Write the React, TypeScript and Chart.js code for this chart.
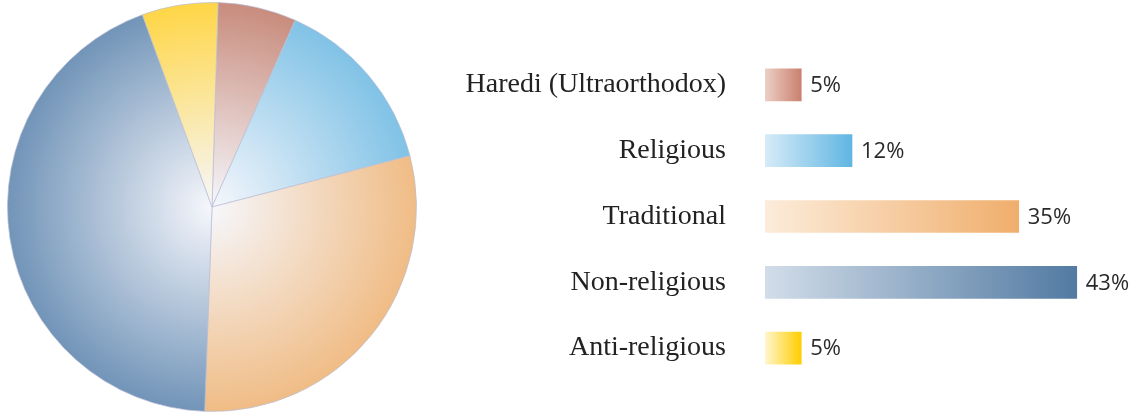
import React, { useEffect, useRef } from "react";
import { Chart, registerables } from "chart.js";

Chart.register(...registerables);

const categories = [
  "Haredi (Ultraorthodox)",
  "Religious",
  "Traditional",
  "Non-religious",
  "Anti-religious",
];
const barValues = [5, 12, 35, 43, 5];
const pieShares = [6.2, 14.3, 29.6, 43.9, 6.0];
const valueLabels = ["5%", "12%", "35%", "43%", "5%"];

const pieEdgeColors = [
  [200, 140, 125],
  [128, 194, 230],
  [240, 188, 133],
  [113, 148, 184],
  [255, 214, 70],
];
const barLightColors = [
  [236, 208, 198],
  [214, 235, 248],
  [252, 236, 218],
  [210, 221, 233],
  [255, 246, 205],
];
const barDarkColors = [
  [202, 128, 110],
  [96, 182, 226],
  [240, 174, 108],
  [82, 122, 162],
  [255, 206, 0],
];

const rgb = (c: number[]) => `rgb(${c[0]},${c[1]},${c[2]})`;

function PieChart() {
  const ref = useRef<HTMLCanvasElement | null>(null);
  useEffect(() => {
    const chart = new Chart(ref.current!, {
      type: "pie",
      data: {
        labels: categories,
        datasets: [
          {
            data: pieShares,
            backgroundColor: (ctx: any) => {
              const ch = ctx.chart;
              const area = ch.chartArea;
              const c = pieEdgeColors[ctx.dataIndex] || pieEdgeColors[0];
              if (!area || !isFinite(area.width) || area.width <= 0) return rgb(c);
              const cx = (area.left + area.right) / 2;
              const cy = (area.top + area.bottom) / 2;
              const r = Math.min(area.width, area.height) / 2;
              const g = ch.ctx.createRadialGradient(cx, cy, 0, cx, cy, r);
              g.addColorStop(0, "rgb(246,247,252)");
              g.addColorStop(1, rgb(c));
              return g;
            },
            borderColor: "rgba(185,190,212,0.7)",
            borderWidth: 1,
          },
        ],
      },
      options: {
        responsive: false,
        animation: false,
        rotation: 1.7,
        layout: { padding: 0 },
        plugins: { legend: { display: false }, tooltip: { enabled: false } },
      },
    });
    return () => chart.destroy();
  }, []);
  return (
    <canvas
      ref={ref}
      width={410}
      height={410}
      style={{ position: "absolute", left: 7, top: 2, width: 410, height: 410 }}
    />
  );
}

const valueLabelPlugin = {
  id: "valueLabels",
  afterDatasetsDraw(chart: any) {
    const ctx = chart.ctx;
    const meta = chart.getDatasetMeta(0);
    ctx.save();
    ctx.font = '22px "Open Sans"';
    ctx.fillStyle = "#2a2a2a";
    ctx.textAlign = "left";
    ctx.textBaseline = "middle";
    meta.data.forEach((bar: any, i: number) => {
      ctx.fillText(valueLabels[i], bar.x + 9, bar.y + 1);
    });
    ctx.restore();
  },
};

function BarChart() {
  const ref = useRef<HTMLCanvasElement | null>(null);
  useEffect(() => {
    const chart = new Chart(ref.current!, {
      type: "bar",
      data: {
        labels: categories,
        datasets: [
          {
            data: barValues,
            barThickness: 32,
            borderWidth: 0,
            backgroundColor: (ctx: any) => {
              const ch = ctx.chart;
              const i = ctx.dataIndex;
              const light = barLightColors[i] || barLightColors[0];
              const dark = barDarkColors[i] || barDarkColors[0];
              const xs = ch.scales && ch.scales.x;
              if (!xs || i === undefined) return rgb(dark);
              const x0 = xs.getPixelForValue(0);
              const x1 = xs.getPixelForValue(barValues[i]);
              if (!isFinite(x0) || !isFinite(x1) || x1 === x0) return rgb(dark);
              const g = ch.ctx.createLinearGradient(x0, 0, x1, 0);
              g.addColorStop(0, rgb(light));
              g.addColorStop(1, rgb(dark));
              return g;
            },
          },
        ],
      },
      options: {
        indexAxis: "y",
        responsive: false,
        animation: false,
        layout: { padding: { top: 52, bottom: 31, left: 0, right: 8.5 } },
        plugins: { legend: { display: false }, tooltip: { enabled: false } },
        scales: {
          x: { display: false, min: 0, max: 50 },
          y: {
            grid: { display: false, drawTicks: true, tickLength: 35 },
            border: { display: false },
            afterFit: (axis: any) => {
              axis.width = 325;
            },
            ticks: {
              padding: 4,
              color: "#222",
              font: { family: '"Liberation Serif", "Times New Roman", serif', size: 28 },
            },
          },
        },
      },
      plugins: [valueLabelPlugin],
    });
    return () => chart.destroy();
  }, []);
  return (
    <canvas
      ref={ref}
      width={696}
      height={412}
      style={{ position: "absolute", left: 440, top: 0, width: 696, height: 412 }}
    />
  );
}

export default function App() {
  return (
    <div
      style={{
        position: "fixed",
        left: 0,
        top: 0,
        width: 1136,
        height: 412,
        background: "#fff",
        overflow: "hidden",
      }}
    >
      <PieChart />
      <BarChart />
    </div>
  );
}
